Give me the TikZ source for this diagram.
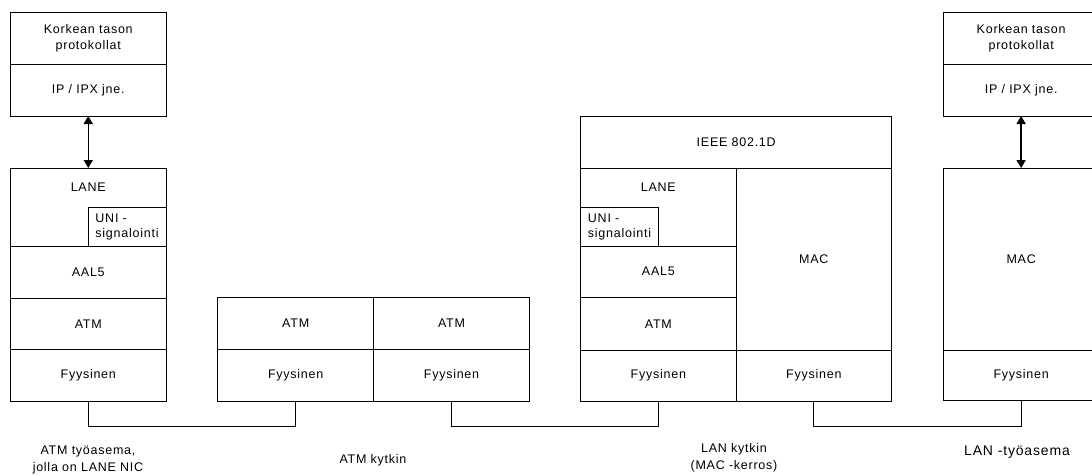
\documentclass[tikz,border=0pt]{standalone}
\usepackage{fontspec}
\setmainfont{Liberation Sans}[LetterSpace=6]
\usetikzlibrary{arrows.meta,calc}
\tikzset{
  cell/.style={draw=black, line width=0.8pt, inner sep=0pt, outer sep=0pt,
    anchor=north west, align=center, font=\fontsize{12.5}{16}\selectfont},
  unicell/.style={cell, align=left, font=\fontsize{12.5}{15}\selectfont},
  txt/.style={inner sep=0pt, align=center, font=\fontsize{12.5}{16}\selectfont},
  caption/.style={inner sep=0pt, align=center, font=\fontsize{12.5}{16.5}\selectfont},
  link/.style={draw=black, line width=0.8pt},
  updown/.style={draw=black, line width=1.5pt, {Triangle[width=9pt,length=8pt]}-{Triangle[width=9pt,length=8pt]}}
}
\begin{document}
\begin{tikzpicture}[x=1pt,y=-1pt]
\useasboundingbox (0,0) rectangle (1092,475);
\clip (0,0) rectangle (1092,475);
% ATM workstation
\node[cell, minimum width=155.5pt, minimum height=51.5pt] (kA) at (10.5,12.5) {Korkean tason\\protokollat};
\node[cell, minimum width=155.5pt, minimum height=52pt] (ipA) at (10.5,64) {IP / IPX jne.};
\node[cell, minimum width=155.5pt, minimum height=78pt] (laneA) at (10.5,168) {};
\node[txt] (laneAt) at ($(laneA.north)+(0,19.5)$) {LANE};
\node[unicell, minimum width=78pt, minimum height=39pt] (uniA) at (88,207) {UNI -\\signalointi};
\node[cell, minimum width=155.5pt, minimum height=52pt] (aalA) at (10.5,246) {AAL5};
\node[cell, minimum width=155.5pt, minimum height=51.5pt] (atmA) at (10.5,298) {ATM};
\node[cell, minimum width=155.5pt, minimum height=51.5pt] (phyA) at (10.5,349.5) {Fyysinen};
% ATM switch
\node[cell, minimum width=156pt, minimum height=52pt] (atmB1) at (217.7,297.3) {ATM};
\node[cell, minimum width=155.6pt, minimum height=52pt] (atmB2) at (373.7,297.3) {ATM};
\node[cell, minimum width=156pt, minimum height=51.7pt] (phyB1) at (217.7,349.3) {Fyysinen};
\node[cell, minimum width=155.6pt, minimum height=51.7pt] (phyB2) at (373.7,349.3) {Fyysinen};
% LAN switch
\node[cell, minimum width=311pt, minimum height=52pt] (ieeeC) at (580.7,116) {IEEE 802.1D};
\node[cell, minimum width=155.3pt, minimum height=78pt] (laneC) at (580.7,168) {};
\node[txt] (laneCt) at ($(laneC.north)+(0,19.5)$) {LANE};
\node[unicell, minimum width=77.6pt, minimum height=39pt] (uniC) at (580.7,207) {UNI -\\signalointi};
\node[cell, minimum width=155.3pt, minimum height=51.5pt] (aalC) at (580.7,246) {AAL5};
\node[cell, minimum width=155.3pt, minimum height=52.5pt] (atmC) at (580.7,297.5) {ATM};
\node[cell, minimum width=155.3pt, minimum height=51pt] (phyC1) at (580.7,350) {Fyysinen};
\node[cell, minimum width=155.7pt, minimum height=182pt] (macC) at (736,168) {MAC};
\node[cell, minimum width=155.7pt, minimum height=51pt] (phyC2) at (736,350) {Fyysinen};
% LAN workstation
\node[cell, minimum width=155.7pt, minimum height=51.3pt] (kD) at (943.3,12.7) {Korkean tason\\protokollat};
\node[cell, minimum width=155.7pt, minimum height=52pt] (ipD) at (943.3,64) {IP / IPX jne.};
\node[cell, minimum width=155.7pt, minimum height=182pt] (macD) at (943.3,168) {MAC};
\node[cell, minimum width=155.7pt, minimum height=50.5pt] (phyD) at (943.3,350) {Fyysinen};
% vertical arrows
\draw[updown] (ipA.south) -- (laneA.north);
\draw[updown] (ipD.south) -- (macD.north);
% connectors
\draw[link] (phyA.south) -- ++(0,25.7) -| (phyB1.south);
\draw[link] (phyB2.south) -- ++(0,25.7) -| (phyC1.south);
\draw[link] (phyC2.south) -- ++(0,25.7) -| (phyD.south);
% captions
\node[caption] (capA) at (88,460) {ATM työasema,\\jolla on LANE NIC};
\node[caption] (capB) at (373,460) {ATM kytkin};
\node[caption] (capC) at (734,458) {LAN kytkin\\(MAC -kerros)};
\node[caption, font=\fontsize{14}{16}\selectfont] (capD) at (1017,452) {LAN -työasema};
\end{tikzpicture}
\end{document}
